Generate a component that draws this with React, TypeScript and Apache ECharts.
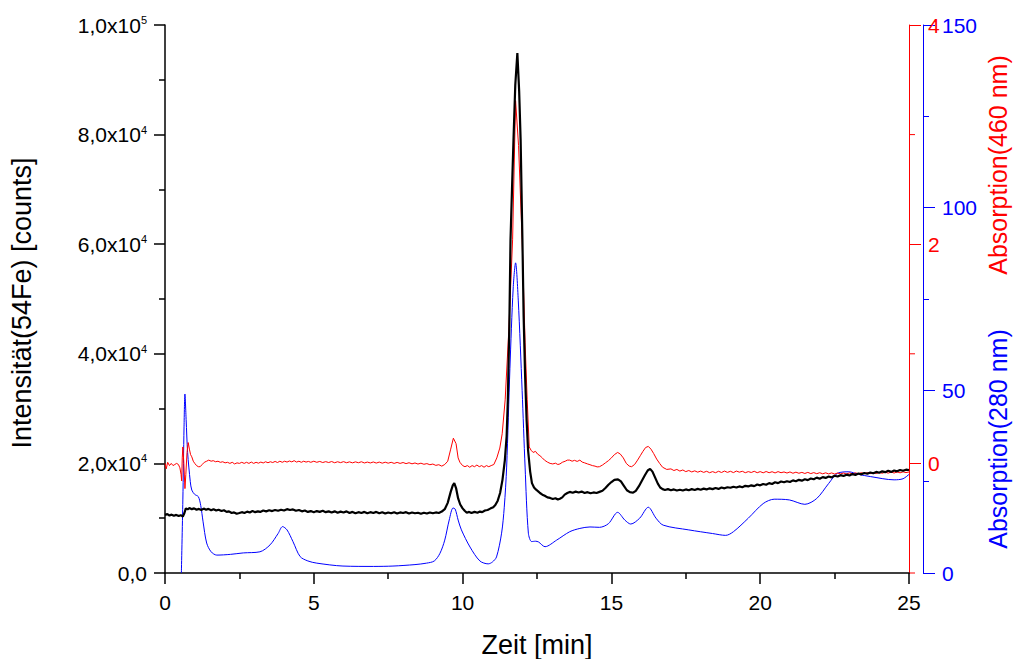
import React, { useEffect, useRef } from "react";
import * as echarts from "echarts";

// Zeit [min], Intensität 54Fe [counts]
const fe54: [number, number][] = [
  [0, 10600], [0.08, 10750], [0.15, 10500], [0.22, 10650], [0.3, 10450], [0.38, 10600], [0.46, 10400], [0.53, 10550],
  [0.6, 10300], [0.65, 10900], [0.7, 11800], [0.76, 11600], [0.82, 11850], [0.9, 11650], [0.98, 11800], [1.06, 11550],
  [1.14, 11700], [1.22, 11500], [1.3, 11750], [1.38, 11550], [1.46, 11700], [1.55, 11450], [1.63, 11650], [1.72, 11400],
  [1.8, 11550], [1.9, 11300], [1.98, 11450], [2.07, 11150], [2.15, 11250], [2.24, 10950], [2.32, 11050], [2.41, 10800],
  [2.5, 10950], [2.58, 11100], [2.67, 10950], [2.76, 11200], [2.85, 11050], [2.94, 11300], [3.03, 11100], [3.12, 11250],
  [3.2, 11150], [3.3, 11400], [3.4, 11250], [3.5, 11450], [3.6, 11300], [3.7, 11500], [3.8, 11350], [3.9, 11550],
  [4.0, 11400], [4.1, 11650], [4.2, 11500], [4.3, 11600], [4.4, 11350], [4.5, 11500], [4.6, 11250], [4.7, 11400],
  [4.8, 11150], [4.9, 11300], [5.0, 11100], [5.1, 11300], [5.2, 11150], [5.3, 11350], [5.4, 11100], [5.5, 11250],
  [5.6, 11050], [5.7, 11250], [5.8, 11000], [5.9, 11200], [6.0, 11050], [6.1, 11250], [6.2, 10950], [6.3, 11150],
  [6.4, 10900], [6.5, 11100], [6.6, 10950], [6.7, 11150], [6.8, 10900], [6.9, 11100], [7.0, 10950], [7.1, 11150],
  [7.2, 10900], [7.3, 11100], [7.4, 10850], [7.5, 11050], [7.6, 10900], [7.7, 11100], [7.8, 10850], [7.9, 11050],
  [8.0, 10950], [8.1, 11100], [8.2, 10850], [8.3, 11050], [8.4, 10900], [8.5, 11000], [8.6, 10800], [8.7, 11000],
  [8.8, 10850], [8.9, 11050], [9.0, 10900], [9.1, 11050], [9.2, 10950], [9.3, 11200], [9.4, 11650], [9.5, 12800],
  [9.6, 14800], [9.67, 16000], [9.72, 16400], [9.78, 15500], [9.85, 13600], [9.92, 12500], [10.0, 11800], [10.07, 11350],
  [10.14, 11000], [10.22, 11150], [10.3, 10950], [10.4, 11150], [10.5, 11000], [10.58, 11200], [10.66, 11100], [10.75, 11400],
  [10.84, 11500], [10.93, 11750], [11.03, 12000], [11.1, 12400], [11.18, 13200], [11.26, 14600], [11.34, 17000], [11.42, 20600],
  [11.48, 25000], [11.52, 31600], [11.57, 45000], [11.61, 60800], [11.66, 70000], [11.71, 79000], [11.77, 89000], [11.84, 94900],
  [11.9, 88000], [11.95, 79000], [12.01, 60800], [12.05, 47000], [12.1, 36000], [12.15, 28000], [12.2, 22400], [12.27, 18500],
  [12.33, 16400], [12.4, 15600], [12.47, 15200], [12.54, 14900], [12.6, 14600], [12.68, 14300], [12.76, 14100], [12.85, 13800],
  [12.94, 13700], [13.03, 13500], [13.12, 13650], [13.2, 13400], [13.27, 13550], [13.35, 13800], [13.43, 14300], [13.52, 14600],
  [13.6, 14800], [13.7, 14650], [13.8, 14850], [13.9, 14700], [14.0, 14850], [14.1, 14600], [14.2, 14750], [14.3, 14550],
  [14.4, 14700], [14.5, 14600], [14.6, 14800], [14.7, 15000], [14.8, 15500], [14.9, 16100], [15.0, 16600], [15.1, 17000],
  [15.22, 17100], [15.32, 16700], [15.42, 15900], [15.52, 15100], [15.62, 14750], [15.73, 14650], [15.82, 15000], [15.92, 15800],
  [16.02, 16800], [16.12, 17800], [16.22, 18700], [16.3, 19000], [16.38, 18500], [16.47, 17400], [16.56, 16300], [16.64, 15600],
  [16.72, 15300], [16.8, 15150], [16.9, 15300], [17.0, 15100], [17.1, 15250], [17.2, 15050], [17.3, 15200], [17.4, 15050],
  [17.5, 15250], [17.6, 15100], [17.7, 15300], [17.8, 15150], [17.9, 15350], [18.0, 15200], [18.1, 15400], [18.2, 15250],
  [18.3, 15450], [18.4, 15300], [18.5, 15500], [18.6, 15350], [18.7, 15600], [18.8, 15450], [18.9, 15650], [19.0, 15550],
  [19.1, 15750], [19.2, 15600], [19.3, 15800], [19.4, 15650], [19.5, 15900], [19.6, 15800], [19.7, 16000], [19.8, 15850],
  [19.9, 16150], [20.0, 16000], [20.1, 16250], [20.2, 16100], [20.3, 16400], [20.4, 16250], [20.5, 16550], [20.6, 16400],
  [20.7, 16700], [20.8, 16550], [20.9, 16750], [21.0, 16600], [21.1, 16900], [21.2, 16750], [21.3, 17000], [21.4, 16850],
  [21.5, 17100], [21.6, 16950], [21.7, 17250], [21.8, 17100], [21.9, 17400], [22.0, 17200], [22.1, 17500], [22.2, 17350],
  [22.3, 17600], [22.4, 17450], [22.5, 17750], [22.6, 17600], [22.7, 17850], [22.8, 17700], [22.9, 17950], [23.0, 17800],
  [23.1, 18050], [23.2, 17900], [23.3, 18150], [23.4, 18000], [23.5, 18250], [23.6, 18100], [23.7, 18350], [23.8, 18200],
  [23.9, 18450], [24.0, 18300], [24.1, 18550], [24.2, 18400], [24.3, 18650], [24.4, 18450], [24.5, 18700], [24.6, 18550],
  [24.7, 18800], [24.8, 18650], [24.9, 18850], [25.0, 18800],
];

// Zeit [min], Absorption (460 nm)
const abs460: [number, number][] = [
  [0, 0.0], [0.04, -0.05], [0.09, 0.01], [0.15, -0.02], [0.21, 0.0], [0.27, -0.02], [0.33, -0.01], [0.39, 0.0],
  [0.45, -0.01], [0.5, -0.04], [0.54, -0.1], [0.56, -0.16], [0.58, 0.05], [0.6, 0.15], [0.63, 0.02], [0.67, -0.23],
  [0.7, -0.1], [0.74, 0.1], [0.78, 0.19], [0.82, 0.13], [0.86, 0.08], [0.9, 0.06], [0.95, 0.02], [1.0, 0.0],
  [1.06, -0.02], [1.12, -0.03], [1.18, -0.03], [1.25, -0.01], [1.32, 0.01], [1.4, 0.02], [1.47, 0.03], [1.55, 0.02],
  [1.62, 0.025], [1.7, 0.015], [1.78, 0.02], [1.86, 0.01], [1.94, 0.015], [2.02, 0.005], [2.1, 0.01], [2.18, 0.0],
  [2.26, 0.01], [2.34, -0.005], [2.42, 0.005], [2.5, 0.0], [2.58, 0.01], [2.66, 0.0], [2.74, 0.01], [2.82, 0.0],
  [2.9, 0.012], [2.98, 0.0], [3.06, 0.01], [3.14, 0.002], [3.22, 0.012], [3.3, 0.004], [3.38, 0.015], [3.46, 0.006],
  [3.54, 0.015], [3.62, 0.008], [3.7, 0.018], [3.78, 0.008], [3.86, 0.02], [3.94, 0.01], [4.02, 0.02], [4.1, 0.012],
  [4.18, 0.022], [4.26, 0.014], [4.34, 0.025], [4.42, 0.012], [4.5, 0.02], [4.58, 0.01], [4.66, 0.02], [4.74, 0.012],
  [4.82, 0.018], [4.9, 0.01], [5.0, 0.02], [5.1, 0.01], [5.2, 0.018], [5.3, 0.008], [5.4, 0.016], [5.5, 0.008],
  [5.6, 0.017], [5.7, 0.006], [5.8, 0.015], [5.9, 0.007], [6.0, 0.016], [6.1, 0.006], [6.2, 0.014], [6.3, 0.005],
  [6.4, 0.014], [6.5, 0.006], [6.6, 0.015], [6.7, 0.004], [6.8, 0.012], [6.9, 0.004], [7.0, 0.013], [7.1, 0.003],
  [7.2, 0.012], [7.3, 0.002], [7.4, 0.011], [7.5, 0.002], [7.6, 0.01], [7.7, 0.0], [7.8, 0.009], [7.9, 0.0],
  [8.0, 0.008], [8.1, -0.002], [8.2, 0.006], [8.3, -0.004], [8.4, 0.004], [8.5, -0.006], [8.6, 0.002], [8.7, -0.008],
  [8.8, -0.002], [8.9, -0.012], [9.0, -0.006], [9.1, -0.018], [9.2, -0.012], [9.3, -0.025], [9.4, -0.01], [9.5, 0.02],
  [9.6, 0.13], [9.69, 0.23], [9.78, 0.18], [9.85, 0.05], [9.91, 0.01], [10.0, -0.02], [10.08, -0.03], [10.16, -0.02],
  [10.24, -0.035], [10.32, -0.02], [10.4, -0.03], [10.48, -0.015], [10.56, -0.03], [10.64, -0.02], [10.72, -0.035], [10.8, -0.02],
  [10.88, -0.03], [10.96, -0.02], [11.05, -0.01], [11.15, 0.05], [11.25, 0.14], [11.33, 0.27], [11.43, 0.58], [11.55, 1.2],
  [11.68, 2.04], [11.78, 3.31], [11.88, 2.9], [12.0, 2.04], [12.1, 1.1], [12.17, 0.58], [12.24, 0.15], [12.3, 0.12],
  [12.37, 0.1], [12.45, 0.11], [12.52, 0.085], [12.6, 0.07], [12.68, 0.05], [12.75, 0.03], [12.85, 0.012], [12.94, 0.0],
  [13.03, -0.005], [13.12, 0.002], [13.2, -0.01], [13.27, -0.005], [13.35, 0.01], [13.45, 0.02], [13.52, 0.03], [13.6, 0.03],
  [13.68, 0.02], [13.76, 0.028], [13.85, 0.018], [13.94, 0.03], [14.02, 0.012], [14.1, 0.005], [14.2, -0.005], [14.28, -0.012],
  [14.36, -0.02], [14.45, -0.025], [14.52, -0.032], [14.6, -0.03], [14.7, -0.015], [14.8, 0.005], [14.9, 0.025], [15.0, 0.05],
  [15.1, 0.08], [15.21, 0.1], [15.3, 0.085], [15.4, 0.05], [15.5, 0.0], [15.6, -0.025], [15.68, -0.03], [15.78, -0.01],
  [15.88, 0.03], [15.97, 0.07], [16.06, 0.11], [16.15, 0.145], [16.24, 0.155], [16.33, 0.13], [16.42, 0.09], [16.52, 0.04],
  [16.62, 0.0], [16.72, -0.035], [16.86, -0.055], [17.0, -0.05], [17.1, -0.065], [17.2, -0.055], [17.3, -0.07], [17.4, -0.06],
  [17.5, -0.075], [17.6, -0.065], [17.7, -0.078], [17.8, -0.068], [17.9, -0.08], [18.0, -0.07], [18.1, -0.082], [18.2, -0.072],
  [18.3, -0.085], [18.4, -0.075], [18.5, -0.085], [18.6, -0.072], [18.7, -0.083], [18.8, -0.07], [18.9, -0.082], [19.0, -0.072],
  [19.1, -0.084], [19.2, -0.07], [19.3, -0.08], [19.4, -0.072], [19.5, -0.085], [19.6, -0.075], [19.7, -0.083], [19.8, -0.072],
  [19.9, -0.085], [20.0, -0.075], [20.1, -0.086], [20.2, -0.074], [20.3, -0.085], [20.4, -0.076], [20.5, -0.087], [20.6, -0.075],
  [20.7, -0.085], [20.8, -0.078], [20.9, -0.088], [21.0, -0.078], [21.1, -0.09], [21.2, -0.08], [21.3, -0.09], [21.4, -0.082],
  [21.5, -0.092], [21.6, -0.082], [21.7, -0.093], [21.8, -0.084], [21.9, -0.094], [22.0, -0.085], [22.1, -0.095], [22.2, -0.086],
  [22.3, -0.096], [22.4, -0.087], [22.5, -0.097], [22.6, -0.088], [22.7, -0.096], [22.8, -0.088], [22.9, -0.097], [23.0, -0.087],
  [23.1, -0.096], [23.2, -0.086], [23.3, -0.095], [23.4, -0.085], [23.5, -0.094], [23.6, -0.084], [23.7, -0.093], [23.8, -0.083],
  [23.9, -0.092], [24.0, -0.082], [24.1, -0.09], [24.2, -0.08], [24.3, -0.089], [24.4, -0.079], [24.5, -0.088], [24.6, -0.078],
  [24.7, -0.086], [24.8, -0.077], [24.9, -0.084], [25.0, -0.078],
];

// Zeit [min], Absorption (280 nm)
const abs280: [number, number][] = [
  [0.55, 0], [0.6, 20], [0.64, 40], [0.67, 49], [0.71, 42], [0.76, 33], [0.85, 25], [0.9, 22.7],
  [1.0, 21.5], [1.12, 20.9], [1.2, 18.5], [1.28, 14], [1.4, 8.2], [1.55, 5.8], [1.74, 4.9], [2.2, 5.1],
  [2.63, 5.5], [3.19, 5.8], [3.53, 7.7], [3.8, 10.8], [3.95, 12.7], [4.1, 11.8], [4.3, 8.6], [4.54, 4.5],
  [4.8, 3.3], [5.1, 2.7], [5.98, 1.9], [7.0, 1.8], [7.66, 1.9], [8.4, 2.3], [8.79, 2.7], [9.05, 3.3],
  [9.24, 5.4], [9.4, 9], [9.55, 14.5], [9.68, 17.8], [9.75, 17.5], [9.85, 14.5], [9.96, 11.8], [10.25, 7.1],
  [10.58, 3.3], [10.86, 2.5], [11.0, 3], [11.14, 4.4], [11.31, 10.9], [11.4, 18], [11.48, 29], [11.59, 56],
  [11.7, 78], [11.78, 84.9], [11.87, 74.7], [12.0, 50], [12.1, 29], [12.21, 10.9], [12.32, 8.6], [12.45, 8.7],
  [12.55, 8.5], [12.77, 7.2], [13.16, 9], [13.6, 11.3], [13.94, 12.2], [14.28, 12.6], [14.6, 12.5], [14.9, 13.5],
  [15.21, 16.6], [15.45, 14.5], [15.65, 13.4], [15.95, 15], [16.24, 18], [16.5, 15], [16.74, 13.1], [17.6, 11.8],
  [18.4, 10.8], [18.84, 10.3], [19.1, 11.3], [19.6, 15], [20.1, 19], [20.47, 20.2], [20.98, 20], [21.5, 18.8],
  [21.9, 20.4], [22.3, 24.5], [22.6, 27.3], [22.98, 27.7], [23.3, 27], [23.7, 26.4], [24.5, 25.5], [24.8, 25.8],
  [25, 27],
];

const redMajorTicks = [0, 2, 4];
const redMinorTicks = [-1, 1, 3];

const FONT = "'Liberation Sans', Arial, sans-serif";
const RED = "#ff0000";
const BLUE = "#0000ff";

function sciLabel(v: number): string {
  if (v === 0) return "{m|0,0}";
  const exp = Math.floor(Math.log10(v) + 1e-9);
  const mant = v / Math.pow(10, exp);
  return `{m|${mant.toFixed(1).replace(".", ",")}x10}{s|${exp}}`;
}

const titles = [
  {
    type: "text",
    x: 22,
    y: 303,
    rotation: Math.PI / 2,
    style: { text: "Intensität(54Fe) [counts]", fontSize: 27, fontFamily: FONT, fill: "#000", textAlign: "center", textVerticalAlign: "middle" },
  },
  {
    type: "text",
    x: 537,
    y: 645,
    style: { text: "Zeit [min]", fontSize: 27, fontFamily: FONT, fill: "#000", textAlign: "center", textVerticalAlign: "middle" },
  },
  {
    type: "text",
    x: 998,
    y: 165,
    rotation: Math.PI / 2,
    style: { text: "Absorption(460 nm)", fontSize: 25, fontFamily: FONT, fill: RED, textAlign: "center", textVerticalAlign: "middle" },
  },
  {
    type: "text",
    x: 998,
    y: 439,
    rotation: Math.PI / 2,
    style: { text: "Absorption(280 nm)", fontSize: 25, fontFamily: FONT, fill: BLUE, textAlign: "center", textVerticalAlign: "middle" },
  },
];

export default function App() {
  const ref = useRef<HTMLDivElement>(null);
  useEffect(() => {
    const chart = echarts.init(ref.current!, null, { renderer: "svg" });
    const option: any = {
      animation: false,
      backgroundColor: "#ffffff",
      grid: { left: 165, right: 104, top: 25, bottom: 86, containLabel: false, outerBoundsMode: "none" },
      xAxis: {
        type: "value",
        min: 0,
        max: 25,
        interval: 5,
        axisLine: { show: true, onZero: false, lineStyle: { color: "#000", width: 1.5 } },
        axisTick: { show: true, length: 11, lineStyle: { color: "#000", width: 1.5 } },
        minorTick: { show: true, splitNumber: 2, length: 6, lineStyle: { color: "#000", width: 1.5 } },
        splitLine: { show: false },
        axisLabel: { fontSize: 21, color: "#000", fontFamily: FONT, margin: 19 },
      },
      yAxis: [
        {
          type: "value",
          position: "left",
          min: 0,
          max: 100000,
          interval: 20000,
          axisLine: { show: true, onZero: false, lineStyle: { color: "#000", width: 1.5 } },
          axisTick: { show: true, length: 11, lineStyle: { color: "#000", width: 1.5 } },
          minorTick: { show: true, splitNumber: 2, length: 6, lineStyle: { color: "#000", width: 1.5 } },
          splitLine: { show: false },
          axisLabel: {
            margin: 18,
            formatter: sciLabel,
            rich: {
              m: { fontSize: 21, color: "#000", fontFamily: FONT },
              s: { fontSize: 11, color: "#000", fontFamily: FONT, verticalAlign: "top" },
            },
          },
        },
        {
          type: "value",
          position: "right",
          offset: 0,
          min: -1,
          max: 4,
          axisLine: { show: true, onZero: false, lineStyle: { color: RED, width: 1 } },
          axisTick: { show: true, length: 12, customValues: redMajorTicks, lineStyle: { color: RED, width: 1 } },
          splitLine: { show: false },
          axisLabel: { customValues: redMajorTicks, fontSize: 21, color: RED, fontFamily: FONT, margin: 19 },
        },
        {
          type: "value",
          position: "right",
          offset: 14,
          min: 0,
          max: 150,
          interval: 50,
          axisLine: { show: true, onZero: false, lineStyle: { color: BLUE, width: 1 } },
          axisTick: { show: true, length: 12, lineStyle: { color: BLUE, width: 1 } },
          minorTick: { show: true, splitNumber: 2, length: 6, lineStyle: { color: BLUE, width: 1 } },
          splitLine: { show: false },
          axisLabel: { fontSize: 21, color: BLUE, fontFamily: FONT, margin: 19 },
        },
      ],
      series: [
        {
          type: "line",
          yAxisIndex: 2,
          data: abs280,
          symbol: "none",
          smooth: 0.3,
          lineStyle: { color: BLUE, width: 1 },
        },
        {
          type: "line",
          yAxisIndex: 1,
          data: abs460,
          symbol: "none",
          lineStyle: { color: RED, width: 1 },
        },
        {
          type: "line",
          yAxisIndex: 0,
          data: fe54,
          symbol: "none",
          lineStyle: { color: "#000", width: 2.2 },
        },
      ],
      graphic: titles,
    };
    chart.setOption(option);

    // minor ticks of the red (460 nm) axis, placed through the axis scale
    const xr = chart.convertToPixel({ xAxisIndex: 0 }, 25) as number;
    const minorLines = redMinorTicks.map((v) => {
      const y = chart.convertToPixel({ yAxisIndex: 1 }, v) as number;
      return {
        type: "line",
        silent: true,
        shape: { x1: xr, y1: y, x2: xr + 6, y2: y },
        style: { stroke: RED, lineWidth: 1 },
      };
    });
    chart.setOption({ graphic: [...titles, ...minorLines] });

    return () => chart.dispose();
  }, []);
  return (
    <div
      ref={ref}
      style={{ position: "fixed", left: 0, top: 0, width: 1013, height: 659, background: "#fff" }}
    />
  );
}
